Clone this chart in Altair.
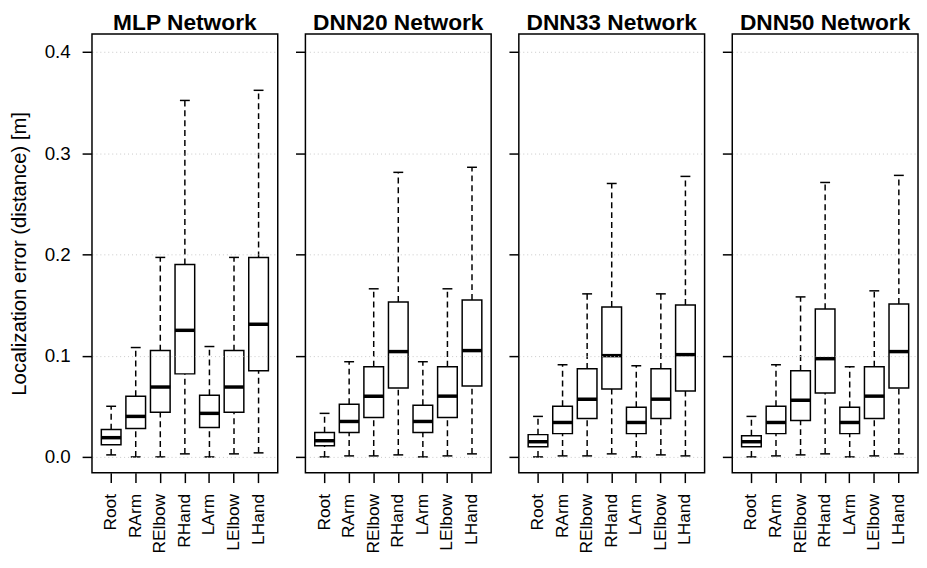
import altair as alt
import pandas as pd

joints = ["Root", "RArm", "RElbow", "RHand", "LArm", "LElbow", "LHand"]
networks = ["MLP Network", "DNN20 Network", "DNN33 Network", "DNN50 Network"]
y_ticks = [0.0, 0.1, 0.2, 0.3, 0.4]

# five-number summaries (lower whisker, Q1, median, Q3, upper whisker)
mlp_lower = [0.002, 0.000, 0.000, 0.003, 0.000, 0.003, 0.004]
mlp_q1 = [0.012, 0.028, 0.044, 0.082, 0.029, 0.044, 0.085]
mlp_median = [0.019, 0.040, 0.069, 0.125, 0.043, 0.069, 0.131]
mlp_q3 = [0.027, 0.060, 0.105, 0.190, 0.061, 0.105, 0.197]
mlp_upper = [0.050, 0.108, 0.197, 0.352, 0.109, 0.197, 0.362]

dnn20_lower = [0.000, 0.001, 0.001, 0.002, 0.000, 0.001, 0.003]
dnn20_q1 = [0.011, 0.024, 0.039, 0.068, 0.024, 0.039, 0.070]
dnn20_median = [0.016, 0.035, 0.060, 0.104, 0.035, 0.060, 0.105]
dnn20_q3 = [0.024, 0.052, 0.089, 0.153, 0.051, 0.089, 0.155]
dnn20_upper = [0.043, 0.094, 0.166, 0.281, 0.094, 0.166, 0.286]

dnn33_lower = [0.000, 0.001, 0.001, 0.003, 0.000, 0.002, 0.001]
dnn33_q1 = [0.010, 0.023, 0.038, 0.067, 0.023, 0.038, 0.065]
dnn33_median = [0.015, 0.034, 0.057, 0.100, 0.034, 0.057, 0.101]
dnn33_q3 = [0.022, 0.050, 0.087, 0.148, 0.049, 0.087, 0.150]
dnn33_upper = [0.040, 0.091, 0.161, 0.270, 0.090, 0.161, 0.277]

dnn50_lower = [0.000, 0.001, 0.002, 0.003, 0.000, 0.001, 0.003]
dnn50_q1 = [0.010, 0.023, 0.036, 0.063, 0.023, 0.038, 0.068]
dnn50_median = [0.015, 0.034, 0.056, 0.097, 0.034, 0.060, 0.104]
dnn50_q3 = [0.021, 0.050, 0.085, 0.146, 0.049, 0.089, 0.151]
dnn50_upper = [0.040, 0.091, 0.158, 0.271, 0.089, 0.164, 0.278]

stats = [
    (mlp_lower, mlp_q1, mlp_median, mlp_q3, mlp_upper),
    (dnn20_lower, dnn20_q1, dnn20_median, dnn20_q3, dnn20_upper),
    (dnn33_lower, dnn33_q1, dnn33_median, dnn33_q3, dnn33_upper),
    (dnn50_lower, dnn50_q1, dnn50_median, dnn50_q3, dnn50_upper),
]

FONT = "Liberation Sans"
yscale = alt.Scale(domain=[-0.0156, 0.4176], nice=False, zero=False)
xscale = alt.Scale(paddingInner=0, paddingOuter=0.28)


def make_panel(title, lo, q1, med, q3, hi, first):
    df = pd.DataFrame({"joint": joints, "lo": lo, "q1": q1, "med": med, "q3": q3, "hi": hi})
    xaxis = alt.Axis(title=None, labelAngle=270, labelFontSize=17.5, labelColor="black",
                     tickSize=10, tickWidth=1.5, tickColor="black", labelPadding=11,
                     domain=False, grid=False, labelFont=FONT)
    common = dict(values=y_ticks, tickSize=10, tickWidth=1.5, tickColor="black",
                  domain=False, grid=True, gridColor="#c8c8c8", gridDash=[1, 3],
                  gridWidth=1, zindex=1)
    if first:
        yaxis = alt.Axis(format=".1f", title="Localization error (distance) [m]",
                         titleFontSize=20.5, titleFontWeight="normal", titleColor="black",
                         titlePadding=15, titleFont=FONT, labelFont=FONT,
                         labelFontSize=19, labelPadding=12, labelColor="black", **common)
    else:
        yaxis = alt.Axis(labels=False, title=None, **common)

    x = alt.X("joint:N", sort=joints, scale=xscale, axis=xaxis)
    base = alt.Chart(df)

    def Y(field):
        return alt.Y(field, type="quantitative", scale=yscale, axis=yaxis)

    whisk_lo = base.mark_rule(color="black", strokeWidth=1.5, strokeDash=[6, 4]).encode(
        x=x, y=Y("lo"), y2="q1")
    whisk_hi = base.mark_rule(color="black", strokeWidth=1.5, strokeDash=[6, 4]).encode(
        x=x, y=Y("q3"), y2="hi")
    cap_lo = base.mark_tick(color="black", opacity=1, thickness=1.5, size=10).encode(
        x=x, y=Y("lo"))
    cap_hi = base.mark_tick(color="black", opacity=1, thickness=1.5, size=10).encode(
        x=x, y=Y("hi"))
    box = base.mark_bar(fill="white", stroke="black", strokeWidth=1.5, opacity=1,
                        width=alt.RelativeBandSize(0.8)).encode(x=x, y=Y("q1"), y2="q3")
    median = base.mark_tick(color="black", opacity=1, thickness=3.5, size=20).encode(
        x=x, y=Y("med"))

    return alt.layer(whisk_lo, whisk_hi, cap_lo, cap_hi, box, median).properties(
        width=188, height=444,
        title=alt.TitleParams(title, fontSize=23, fontWeight="bold", anchor="middle",
                              color="black", font=FONT, offset=-6, dy=-5),
    )


panels = [make_panel(networks[i], *stats[i], first=(i == 0)) for i in range(4)]

chart = alt.hconcat(*panels, spacing=15).properties(
    padding={"left": 0, "top": 0, "right": 0, "bottom": 0},
    background="white",
).configure(font=FONT).configure_view(stroke="black", strokeWidth=1.5)

chart.save("out.html", embed_options={"renderer": "svg", "actions": False})
